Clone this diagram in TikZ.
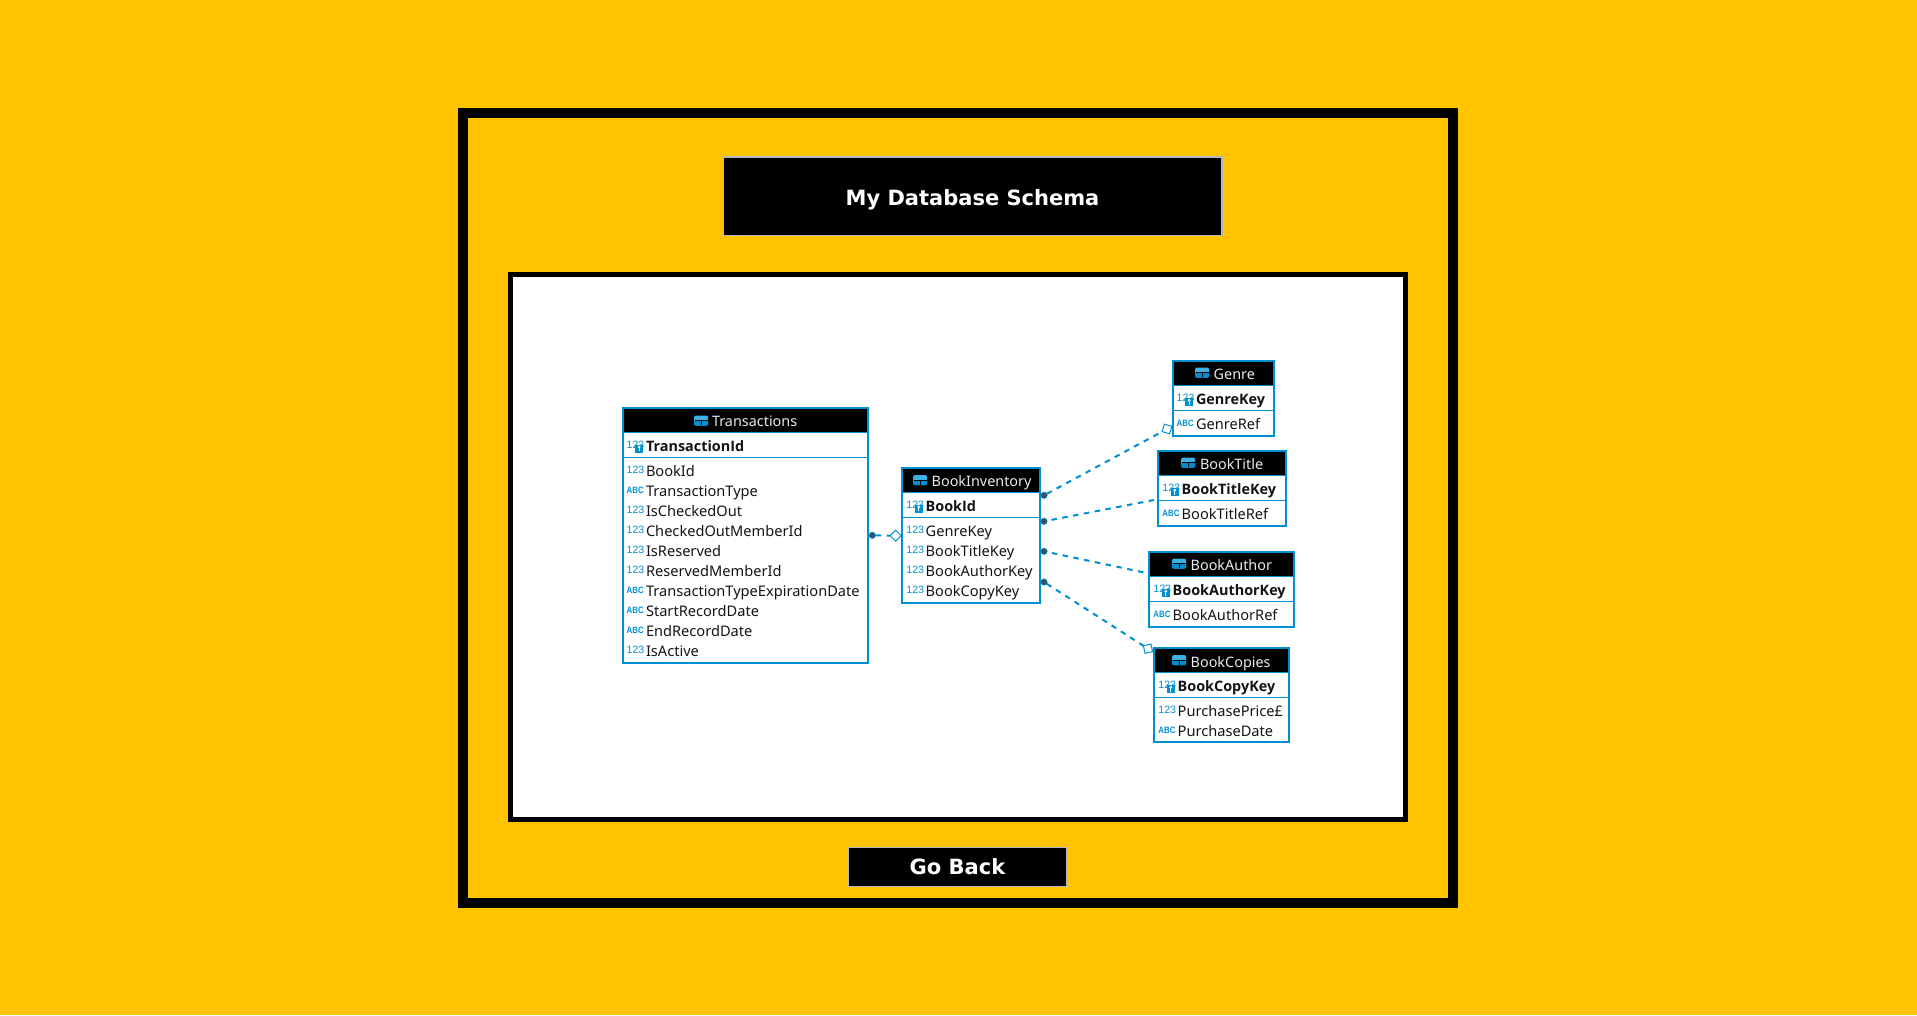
\documentclass[tikz,border=0pt]{standalone}
\usepackage{fontspec}
\usetikzlibrary{shapes.geometric}
\setmainfont{Noto Sans}
\newfontfamily\boldfont{Open Sans}
\newfontfamily\titlefont{DejaVu Sans}
\newfontfamily\iconfont{Liberation Sans}
\definecolor{bgamber}{HTML}{FFC300}
\definecolor{dbblue}{HTML}{0090D0}
\definecolor{dbdot}{HTML}{2F5568}
\definecolor{dblight}{HTML}{3DB0E4}
\definecolor{bannerline}{HTML}{B4B8BC}
\tikzset{
  framebox/.style={draw=black,fill=#1,rectangle,inner sep=0pt,outer sep=0pt},
  bannerbox/.style={draw=bannerline,line width=1.5pt,fill=black,text=white,inner sep=0pt,outer sep=0pt},
  tablebox/.style={draw=dbblue,line width=2pt,rectangle,inner sep=0pt,outer sep=0pt},
  headbox/.style={fill=black,rectangle,inner sep=0pt,outer sep=0pt},
  celltext/.style={anchor=base west,inner sep=0pt,outer sep=0pt,text=black!92,font=\fontsize{14.6}{16}\selectfont},
  keytext/.style={celltext,font=\boldfont\fontsize{14.4}{16}\selectfont\bfseries},
  headtext/.style={anchor=base west,inner sep=0pt,outer sep=0pt,text=white!92!black,font=\fontsize{14.4}{16}\selectfont},
  numtext/.style={anchor=base west,inner sep=0pt,outer sep=0pt,text=dbblue,font=\iconfont\fontsize{10.6}{10}\selectfont},
  abctext/.style={anchor=base west,inner sep=0pt,outer sep=0pt,text=dbblue,font=\iconfont\fontsize{9.2}{9}\selectfont\bfseries},
  fkline/.style={draw=dbblue,line width=2pt,dash pattern=on 5.5pt off 5.5pt},
  srcdot/.style={circle,fill=dbdot,draw=dbblue,line width=0.4pt,minimum size=6.5pt,inner sep=0pt,outer sep=0pt},
  fkend/.style={diamond,draw=dbblue,fill=white,line width=1pt,minimum size=11pt,inner sep=0pt,outer sep=0pt,aspect=1},
}
% table frame: name, left, top, right, bottom, header bottom, divider y
\newcommand\dbtable[7]{%
  \pgfmathsetmacro\tw{#4-#2}\pgfmathsetmacro\th{#5-#3}%
  \pgfmathsetmacro\cx{(#2+#4)/2}\pgfmathsetmacro\cy{(#3+#5)/2}%
  \pgfmathsetmacro\hh{#6-#3}\pgfmathsetmacro\hy{(#3+#6)/2}%
  \node[headbox,minimum width=\tw pt,minimum height=\hh pt] (#1-head) at (\cx,\hy) {};
  \node[tablebox,minimum width=\tw pt,minimum height=\th pt] (#1) at (\cx,\cy) {};
  \draw[dbblue,line width=1pt] (#2,#6) -- (#4,#6);
  \draw[dbblue,line width=1pt] (#2,#7) -- (#4,#7);
}
% table icon at left/top, then title
\newcommand\headlabel[6]{% name, icon x, icon y, text x, baseline y, text
  \begin{scope}[shift={(#2,#3)}]
    \fill[dblight,rounded corners=1.5pt] (0,0) rectangle (14,10);
    \fill[dbblue,rounded corners=1pt] (0,5) rectangle (14,10);
    \draw[black,line width=1pt] (0.5,5) -- (13.5,5);
    \draw[black,line width=1pt] (7,5) -- (7,9.5);
  \end{scope}
  \node[headtext] (#1) at (#4,#5) {#6};
}
\newcommand\numrow[4]{% name, x, centre y, text
  \node[numtext] (#1-i) at (#2-19.3,#3+2.7) {123};
  \node[celltext] (#1) at (#2,#3+5.8) {#4};
}
\newcommand\abcrow[4]{%
  \node[abctext] (#1-i) at (#2-19.3,#3+2.6) {\scalebox{.86}[1]{ABC}};
  \node[celltext] (#1) at (#2,#3+5.8) {#4};
}
\newcommand\keyrow[4]{%
  \node[numtext] (#1-i) at (#2-19.3,#3+2.8) {123};
  \begin{scope}[shift={(#2-11,#3-0.7)}]
    \fill[dbblue] (0,0) rectangle (8.3,7.7);
    \draw[white,line width=0.7pt] (4.1,2) circle (1.1);
    \draw[white,line width=0.7pt] (4.1,3.2) -- (4.1,6.2);
  \end{scope}
  \node[keytext] (#1) at (#2,#3+5.6) {#4};
}
\begin{document}
\begin{tikzpicture}[x=1pt,y=-1pt]
\useasboundingbox (0,0) rectangle (1917,1015);
\fill[bgamber] (0,0) rectangle (1917,1015);

\node[framebox=bgamber,line width=10pt,minimum width=990pt,minimum height=790pt] (outer) at (958,508) {};
\node[framebox=white,line width=5pt,minimum width=895pt,minimum height=545pt] (panel) at (958,547) {};
\node[bannerbox,minimum width=498.5pt,minimum height=78.5pt,text height=17.8pt,text depth=0pt,font=\titlefont\fontsize{21}{24}\selectfont\bfseries] (title) at (972.5,196.2) {My Database Schema};
\node[bannerbox,minimum width=218.5pt,minimum height=39pt,font=\titlefont\fontsize{21}{26}\selectfont\bfseries] (back) at (957.5,867) {Go Back};

% Transactions
\dbtable{tr}{623}{408.3}{868}{663}{432.3}{457.3}
\headlabel{trh}{694}{415.5}{712}{426.5}{Transactions}
\keyrow{tr0}{646}{445.7}{TransactionId}
\numrow{tr1}{646}{470.7}{BookId}
\abcrow{tr2}{646}{490.7}{TransactionType}
\numrow{tr3}{646}{510.7}{IsCheckedOut}
\numrow{tr4}{646}{530.7}{CheckedOutMemberId}
\numrow{tr5}{646}{550.7}{IsReserved}
\numrow{tr6}{646}{570.7}{ReservedMemberId}
\abcrow{tr7}{646}{590.7}{TransactionTypeExpirationDate}
\abcrow{tr8}{646}{610.7}{StartRecordDate}
\abcrow{tr9}{646}{630.7}{EndRecordDate}
\numrow{tr10}{646}{650.7}{IsActive}

% BookInventory
\dbtable{bi}{902}{468.3}{1040}{603}{492.7}{517.3}
\headlabel{bih}{913}{475}{931.7}{486.6}{BookInventory}
\keyrow{bi0}{925.7}{505.7}{BookId}
\numrow{bi1}{925.7}{531}{GenreKey}
\numrow{bi2}{925.7}{551}{BookTitleKey}
\numrow{bi3}{925.7}{571}{BookAuthorKey}
\numrow{bi4}{925.7}{591}{BookCopyKey}

% Genre
\dbtable{ge}{1173.3}{361}{1274}{435.7}{385}{410.3}
\headlabel{geh}{1195}{367.5}{1213.7}{379.8}{Genre}
\keyrow{ge0}{1196}{399}{GenreKey}
\abcrow{ge1}{1196}{424}{GenreRef}

% BookTitle
\dbtable{bt}{1158.3}{451}{1285.7}{525.7}{475}{500.3}
\headlabel{bth}{1181}{457.5}{1200}{469.8}{BookTitle}
\keyrow{bt0}{1181.7}{489}{BookTitleKey}
\abcrow{bt1}{1181.7}{514}{BookTitleRef}

% BookAuthor
\dbtable{ba}{1149.3}{552}{1294}{626.7}{576}{601.3}
\headlabel{bah}{1172}{558.5}{1190.7}{570.8}{BookAuthor}
\keyrow{ba0}{1172.7}{590}{BookAuthorKey}
\abcrow{ba1}{1172.7}{615}{BookAuthorRef}

% BookCopies
\dbtable{bc}{1154.3}{648.3}{1289}{742.3}{672.3}{697.3}
\headlabel{bch}{1172}{655}{1190.7}{667.1}{BookCopies}
\keyrow{bc0}{1177.7}{686}{BookCopyKey}
\numrow{bc1}{1177.7}{711}{PurchasePrice£}
\abcrow{bc2}{1177.7}{731}{PurchaseDate}

% connectors
\node[srcdot] (d0) at (872.3,535.3) {};
\node[srcdot] (d1) at (1044,495.3) {};
\node[srcdot] (d2) at (1044,521.3) {};
\node[srcdot] (d3) at (1044,551.3) {};
\node[srcdot] (d4) at (1044,582) {};
\node[fkend] (e0) at (895.7,535.7) {};
\node[fkend,rotate=28] (e1) at (1167,429) {};
\coordinate (e2) at (1154,500);
\coordinate (e3) at (1143.3,572.3);
\node[fkend,rotate=-33] (e4) at (1148,648.7) {};
\draw[fkline] (d0) -- (e0);
\draw[fkline] (d1) -- (e1);
\draw[fkline] (e2) -- (d2);
\draw[fkline] (e3) -- (d3);
\draw[fkline] (d4) -- (e4);
\end{tikzpicture}
\end{document}
